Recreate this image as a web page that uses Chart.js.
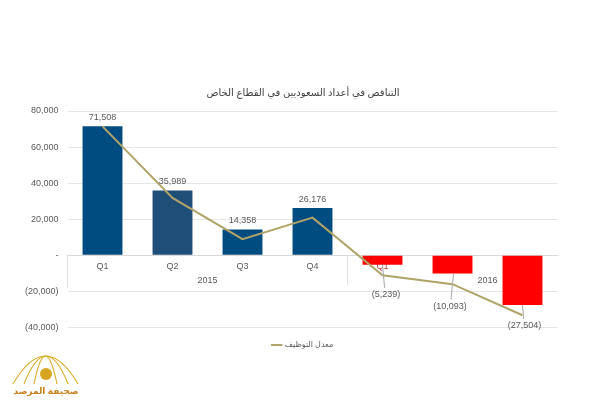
<!DOCTYPE html>
<html lang="ar">
<head>
<meta charset="utf-8">
<style>
  html, body { margin: 0; padding: 0; background: #fff; }
  canvas { display: block; }
</style>
<script src="https://cdn.jsdelivr.net/npm/chart.js@4/dist/chart.umd.min.js"></script>
</head>
<body>
<canvas id="myChart" width="600" height="407"></canvas>
<script>
const quarters = ['Q1', 'Q2', 'Q3', 'Q4', 'Q1', 'Q2', 'Q3'];
const years = ['2015', '2016'];
const yearStarts = [-0.5, 3.5];   // category position where each year begins
const yearCentres = [1.5, 5.5];   // category position of each year label
const saudiDecline = [71508, 35989, 14358, 26176, -5239, -10093, -27504];
const hiringRate = [71500, 31800, 9000, 20900, -11100, -16000, -33200];
const barColors = ['#004b7f', '#1f4e79', '#004b7f', '#004b7f', '#ff0000', '#ff0000', '#ff0000'];
const titleText = 'التناقص في أعداد السعوديين في القطاع الخاص';
const legendText = 'معدل التوظيف';
const logoText = 'صحيفة المرصد';

const LATIN = '"Liberation Sans", Arial, sans-serif';
const ARABIC = '"Noto Sans", "DejaVu Sans", sans-serif';
const TEXT_GREY = '#595959';

function formatNumber(value) {
    if (value === 0) return '-';
    const text = Math.abs(value).toLocaleString('en-US');
    return value < 0 ? `(${text})` : text;
}

// pixel offsets of the negative labels, from the end of their bar
const leaderOffsets = { 4: [3.5, 30], 5: [-2.5, 33], 6: [2, 21] };

// title and legend sit centred on the whole picture, not on the plot
const centreHeaders = {
    id: 'centreHeaders',
    afterLayout(chart) {
        chart.titleBlock.left = 48.5;
        chart.legend.left = 48.5;
    }
};

const yearGroups = {
    id: 'yearGroups',
    beforeDatasetsDraw(chart) {
        const { ctx, scales: { x, y } } = chart;
        const zero = y.getPixelForValue(0);
        ctx.save();
        ctx.font = `9px ${LATIN}`;
        ctx.textAlign = 'center';
        ctx.textBaseline = 'middle';
        ctx.strokeStyle = '#e0e0e0';
        ctx.fillStyle = TEXT_GREY;
        ctx.lineWidth = 1;
        years.forEach((year, i) => {
            const left = x.getPixelForValue(yearStarts[i]);
            ctx.beginPath();
            ctx.moveTo(left, zero);
            ctx.lineTo(left, zero + (i === 0 ? 33 : 30));
            ctx.stroke();
            ctx.fillText(year, x.getPixelForValue(yearCentres[i]), zero + 25);
        });
        ctx.restore();
    }
};

const barLabels = {
    id: 'barLabels',
    afterDatasetsDraw(chart) {
        const { ctx, scales: { y } } = chart;
        const bars = chart.getDatasetMeta(1).data;
        ctx.save();
        ctx.font = `9px ${LATIN}`;
        ctx.textAlign = 'center';
        ctx.textBaseline = 'middle';
        saudiDecline.forEach((value, i) => {
            const barX = bars[i].x;
            const end = y.getPixelForValue(value);
            ctx.fillStyle = TEXT_GREY;
            if (value >= 0) {
                ctx.fillText(formatNumber(value), barX, end - 9);
            } else {
                const [dx, dy] = leaderOffsets[i];
                ctx.strokeStyle = '#a6a6a6';
                ctx.lineWidth = 1;
                ctx.beginPath();
                ctx.moveTo(barX + (i === 5 ? 1 : 0), end);
                ctx.lineTo(barX + dx * 0.6, end + dy - 7);
                ctx.stroke();
                ctx.fillText(formatNumber(value), barX + dx, end + dy);
            }
        });
        ctx.restore();
    }
};

// watermark of the source, bottom left corner
const sourceLogo = {
    id: 'sourceLogo',
    afterDraw(chart) {
        const { ctx } = chart;
        ctx.save();
        ctx.strokeStyle = '#dcae2e';
        ctx.lineWidth = 1.2;
        [[13, 78], [24, 68], [34, 57]].forEach(([a, b]) => {
            ctx.beginPath();
            ctx.moveTo(a, 384);
            ctx.quadraticCurveTo((a + b) / 2, 328, b, 384);
            ctx.stroke();
        });
        ctx.fillStyle = '#d9a520';
        ctx.beginPath();
        ctx.arc(46, 374, 6, 0, Math.PI * 2);
        ctx.fill();
        ctx.fillStyle = '#c8811a';
        ctx.font = `bold 9px ${ARABIC}`;
        ctx.textAlign = 'center';
        ctx.textBaseline = 'middle';
        ctx.fillText(logoText, 46, 391);
        ctx.restore();
    }
};

new Chart(document.getElementById('myChart').getContext('2d'), {
    data: {
        labels: quarters,
        datasets: [
            {
                type: 'line',
                label: legendText,
                data: hiringRate,
                borderColor: '#b0a468',
                backgroundColor: '#b0a468',
                borderWidth: 2,
                pointRadius: 0,
                tension: 0,
                order: 1
            },
            {
                type: 'bar',
                label: 'bars',
                data: saudiDecline,
                backgroundColor: barColors,
                categoryPercentage: 1,
                barPercentage: 0.57,
                order: 2
            }
        ]
    },
    plugins: [centreHeaders, yearGroups, barLabels, sourceLogo],
    options: {
        responsive: false,
        animation: false,
        layout: { padding: { left: 0, right: 42.5, top: 0, bottom: 48 } },
        scales: {
            x: {
                position: { y: 0 },
                z: 1,
                grid: { display: false, tickLength: 0 },
                border: { display: true, color: '#d9d9d9' },
                ticks: {
                    padding: 6,
                    maxRotation: 0,
                    font: { family: LATIN, size: 9 },
                    color: ctx => ctx.index > 3 ? '#c23c3c' : TEXT_GREY
                }
            },
            y: {
                min: -40000,
                max: 80000,
                afterFit(scale) { scale.width = 67.5; },
                grid: { color: '#e6e6e6', drawTicks: false },
                border: { display: false },
                ticks: {
                    stepSize: 20000,
                    padding: 9,
                    font: { family: LATIN, size: 9 },
                    color: TEXT_GREY,
                    callback: formatNumber
                }
            }
        },
        plugins: {
            title: {
                display: true,
                text: titleText,
                color: '#404040',
                font: { family: ARABIC, size: 10, weight: 'normal' },
                padding: { top: 87, bottom: 12 }
            },
            legend: {
                position: 'bottom',
                labels: {
                    usePointStyle: true,
                    pointStyle: 'line',
                    boxWidth: 20,
                    padding: 13.5,
                    color: TEXT_GREY,
                    font: { family: ARABIC, size: 8 },
                    filter: item => item.text === legendText
                }
            },
            tooltip: { enabled: false }
        }
    }
});
</script>
</body>
</html>
